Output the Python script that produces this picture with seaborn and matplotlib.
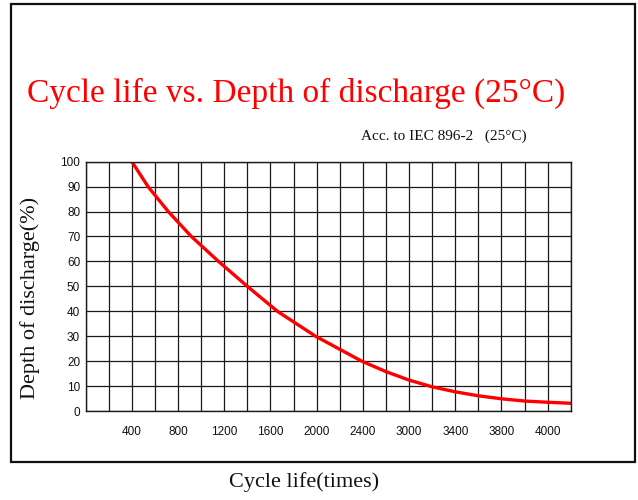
import matplotlib
matplotlib.use("Agg")
import matplotlib.pyplot as plt
import matplotlib.patches as patches
import seaborn as sns
import pandas as pd

# values
cycles = [400, 540, 715, 915, 1150, 1400, 1660, 1990, 2390, 2600, 2800,
          3000, 3200, 3400, 3600, 3800, 4000, 4200]
dod = [100, 90, 80, 70, 60, 50, 40, 30, 20, 15.8, 12.4,
       9.7, 7.7, 6.1, 4.9, 4.0, 3.5, 3.1]

xtick_values = [400, 800, 1200, 1600, 2000, 2400, 2800, 3200, 3600, 4000]
xtick_labels = ["400", "800", "1200", "1600", "2000", "2400",
                "3000", "3400", "3800", "4000"]
ytick_values = list(range(0, 101, 10))

title = "Cycle life vs. Depth of discharge (25°C)"
subtitle = "Acc. to IEC 896-2   (25°C)"
xlabel = "Cycle life(times)"
ylabel = "Depth of discharge(%)"

sns.set_style("white")
plt.rcParams["font.family"] = ["Liberation Sans", "DejaVu Sans"]

df = pd.DataFrame({"cycles": cycles, "dod": dod})

fig = plt.figure(figsize=(6.38, 5.0), dpi=100)
ax = fig.add_axes([85.7 / 638, 89 / 500, 485 / 638, 249.3 / 500])

sns.lineplot(data=df, x="cycles", y="dod", color="#ff0000", linewidth=2.4, ax=ax)

ax.set_xlim(0, 4200)
ax.set_ylim(0, 100)
ax.set_xticks(range(0, 4201, 200), minor=True)
ax.set_xticks(xtick_values)
ax.set_xticklabels(xtick_labels)
ax.set_yticks(ytick_values)
ax.grid(True, which="both", color="#1a1a1a", linewidth=0.9)
ax.set_axisbelow(True)
for s in ax.spines.values():
    s.set_color("#1a1a1a")
    s.set_linewidth(1.0)
ax.tick_params(axis="both", which="both", length=0, labelsize=8.5, colors="#111111")
ax.tick_params(axis="x", pad=11)
ax.tick_params(axis="y", pad=4)
ax.set_xlabel("")
ax.set_ylabel("")

serif = ["Liberation Serif", "DejaVu Serif"]
fig.text(296 / 638, 1 - 93 / 500, title, color="#ff0000", fontsize=24,
         family=serif, ha="center", va="center")
fig.text(444 / 638, 1 - 136 / 500, subtitle, color="#111111", fontsize=11,
         family=serif, ha="center", va="center")
fig.text(30 / 638, 1 - 298 / 500, ylabel, color="#111111", fontsize=16,
         family=serif, ha="center", va="center", rotation=90)
fig.text(304 / 638, 1 - 482 / 500, xlabel, color="#111111", fontsize=16,
         family=serif, ha="center", va="center")

# outer frame
fig.patches.append(patches.Rectangle((11 / 638, 38.3 / 500), 624 / 638, 458 / 500,
                                     transform=fig.transFigure, fill=False,
                                     edgecolor="#111111", linewidth=1.6))

fig.savefig("out.png", dpi=100)
